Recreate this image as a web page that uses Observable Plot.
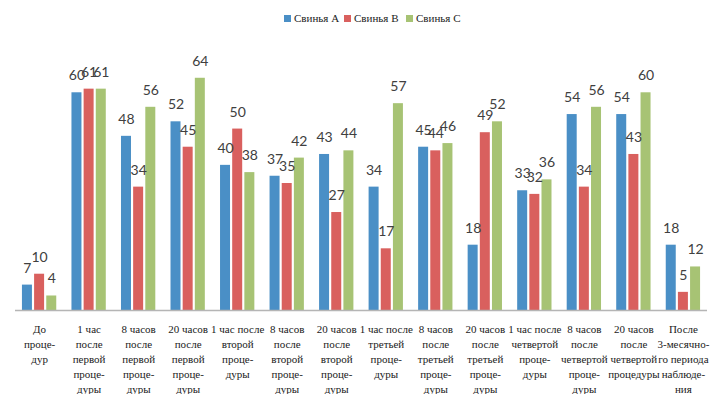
<!DOCTYPE html>
<html>
<head>
<meta charset="utf-8">
<script src="https://cdn.jsdelivr.net/npm/d3@7"></script>
<script src="https://cdn.jsdelivr.net/npm/@observablehq/plot@0.6"></script>
<style>
  html, body { margin: 0; padding: 0; background: #fff; }
  #wrap { position: relative; width: 727px; height: 394px; overflow: hidden; }
  #legend { position: relative; height: 30px; font-family: "Liberation Serif", serif; font-size: 11px; color: #222; }
  #legend .item { position: absolute; top: 12px; display: flex; align-items: center; white-space: nowrap; }
  #legend .sw { width: 7px; height: 7px; margin-right: 3px; }
  #chart svg { display: block; }
</style>
</head>
<body>
<div id="wrap">
  <div id="legend"></div>
  <div id="chart"></div>
</div>
<script>
// Time points of the observation
const categories = [
  "До\nпроце-\nдур",
  "1 час\nпосле\nпервой\nпроце-\nдуры",
  "8 часов\nпосле\nпервой\nпроце-\nдуры",
  "20 часов\nпосле\nпервой\nпроце-\nдуры",
  "1 час после\nвторой\nпроце-\nдуры",
  "8 часов\nпосле\nвторой\nпроце-\nдуры",
  "20 часов\nпосле\nвторой\nпроце-\nдуры",
  "1 час после\nтретьей\nпроце-\nдуры",
  "8 часов\nпосле\nтретьей\nпроце-\nдуры",
  "20 часов\nпосле\nтретьей\nпроце-\nдуры",
  "1 час после\nчетвертой\nпроце-\nдуры",
  "8 часов\nпосле\nчетвертой\nпроце-\nдуры",
  "20 часов\nпосле\nчетвертой\nпроцедуры",
  "После\n3-месячно-\nго периода\nнаблюде-\nния"
];

const seriesNames = ["Свинья A", "Свинья B", "Свинья C"];
const pigA = [7, 60, 48, 52, 40, 37, 43, 34, 45, 18, 33, 54, 54, 18];
const pigB = [10, 61, 34, 45, 50, 35, 27, 17, 44, 49, 32, 34, 43, 5];
const pigC = [4, 61, 56, 64, 38, 42, 44, 57, 46, 52, 36, 56, 60, 12];
const colors = ["#4a8fc6", "#d9605e", "#a7c374"];

const seriesValues = [pigA, pigB, pigC];
const rows = seriesValues.map((vals, k) =>
  categories.map((cat, i) => ({cat, series: seriesNames[k], value: vals[i]}))
);

// Legend above the plot
const legend = document.getElementById("legend");
const legendLeft = [284, 344, 406];
seriesNames.forEach((name, k) => {
  const item = document.createElement("div");
  item.className = "item";
  item.style.left = legendLeft[k] + "px";
  const sw = document.createElement("span");
  sw.className = "sw";
  sw.style.background = colors[k];
  const label = document.createElement("span");
  label.textContent = name;
  item.append(sw, label);
  legend.append(item);
});

// Geometry of the grouped bars inside each category band
const W = 727, H = 364, mL = 15, mR = 20;
const padIn = 0.307, padOut = 0.14;
const step = (W - mL - mR) / (categories.length - padIn + 2 * padOut);
const bandW = step * (1 - padIn);
const barW = 10;
const barStep = (bandW - barW) / 2;

const marks = [];
rows.forEach((data, k) => {
  marks.push(Plot.barY(data, {
    x: "cat", y: "value", fill: colors[k],
    insetLeft: k * barStep, insetRight: (2 - k) * barStep
  }));
});
rows.forEach((data, k) => {
  marks.push(Plot.text(data, {
    x: "cat", y: "value", text: d => String(d.value),
    dx: (k - 1) * barStep, dy: -17, lineAnchor: "middle",
    fill: "#404040", fontSize: 14, fontFamily: "Lato, sans-serif"
  }));
});
marks.push(Plot.ruleY([0], {stroke: "#b5b5b5", strokeWidth: 1.5}));
marks.push(Plot.axisX({
  tickSize: 0, tickPadding: 12, lineHeight: 1.36, fill: "#1a1a1a",
  fontFamily: "'Liberation Serif', serif", fontSize: 11
}));

const chart = Plot.plot({
  width: W, height: H,
  marginLeft: mL, marginRight: mR, marginTop: 26, marginBottom: 84,
  style: {background: "#fff", overflow: "visible", fontFamily: "'Liberation Serif', serif", fontSize: "11px"},
  x: {type: "band", domain: categories, paddingInner: padIn, paddingOuter: padOut, round: false, label: null},
  y: {domain: [0, 70], axis: null},
  marks
});
document.getElementById("chart").append(chart);
</script>
</body>
</html>
